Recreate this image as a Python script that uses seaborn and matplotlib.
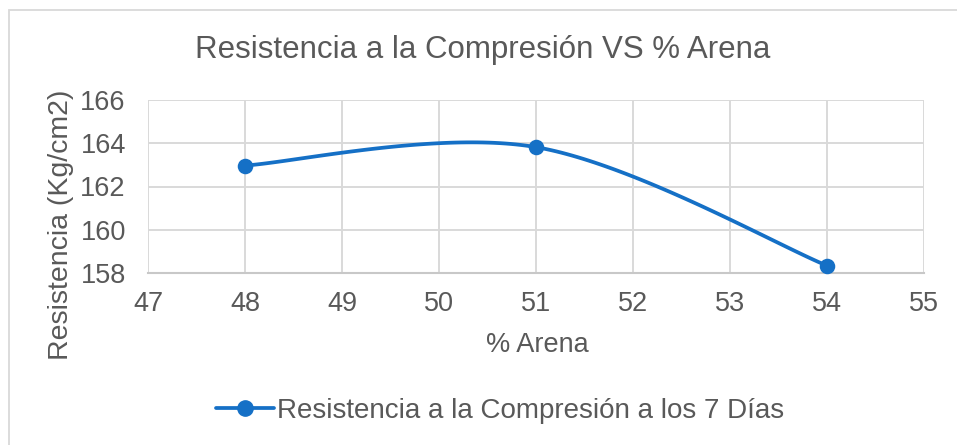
import numpy as np
import pandas as pd
import matplotlib
matplotlib.use("Agg")
import matplotlib.pyplot as plt
from matplotlib.lines import Line2D
from matplotlib.patches import Rectangle
import seaborn as sns

# Data
arena = [48, 51, 54]
resistencia = [162.97, 163.82, 158.34]
series_name = "Resistencia a la Compresión a los 7 Días"
title = "Resistencia a la Compresión VS % Arena"
x_label = "% Arena"
y_label = "Resistencia (Kg/cm2)"
x_ticks = [47, 48, 49, 50, 51, 52, 53, 54, 55]
y_ticks = [158, 160, 162, 164, 166]

BLUE = "#1570C6"
GREY_TXT = "#595959"
GRID = "#D9D9D9"

sns.set_theme(style="white")
plt.rcParams["font.family"] = ["Liberation Sans", "DejaVu Sans"]


def smooth_curve(xs, ys, n=60):
    """Cubic Bezier smoothing through points (spreadsheet-style)."""
    pts = np.column_stack([xs, ys]).astype(float)
    out = []
    for i in range(len(pts) - 1):
        p_prev = pts[i - 1] if i > 0 else pts[i]
        p0, p1 = pts[i], pts[i + 1]
        p_next = pts[i + 2] if i + 2 < len(pts) else pts[i + 1]
        c1 = p0 + (p1 - p_prev) / 6.0
        c2 = p1 - (p_next - p0) / 6.0
        t = np.linspace(0, 1, n)[:, None]
        seg = ((1 - t) ** 3) * p0 + 3 * ((1 - t) ** 2) * t * c1 \
            + 3 * (1 - t) * t ** 2 * c2 + t ** 3 * p1
        out.append(seg if i == 0 else seg[1:])
    curve = np.vstack(out)
    return pd.DataFrame({"x": curve[:, 0], "y": curve[:, 1]})


df = pd.DataFrame({"x": arena, "y": resistencia})
curve = smooth_curve(arena, resistencia)

fig = plt.figure(figsize=(9.57, 4.45), dpi=100)
W, H = 957, 445
ax = fig.add_axes([148 / W, 1 - 273 / H, (924 - 148) / W, (273 - 100) / H])

sns.lineplot(data=curve, x="x", y="y", ax=ax, sort=False, color=BLUE,
             linewidth=2.7, estimator=None, zorder=3)
sns.scatterplot(data=df, x="x", y="y", ax=ax, color=BLUE, s=125,
                edgecolor=BLUE, linewidth=0, zorder=4, clip_on=False)

ax.set_xlim(47, 55)
ax.set_ylim(158, 166)
ax.set_xticks(x_ticks)
ax.set_yticks(y_ticks)
ax.grid(True, color=GRID, linewidth=1.4)
ax.set_axisbelow(True)
for side in ["top", "right", "left"]:
    ax.spines[side].set_visible(False)
ax.spines["bottom"].set_color("#C8C8C8")
ax.spines["bottom"].set_linewidth(1.5)
ax.tick_params(axis="both", length=0, labelsize=19.5, colors=GREY_TXT)
ax.tick_params(axis="x", pad=13)
ax.tick_params(axis="y", pad=16)
ax.set_xlabel("")
ax.set_ylabel("")

fig.text(537 / W, 1 - 345 / H, x_label, ha="center", va="center",
         fontsize=19.5, color=GREY_TXT)
fig.text(61 / W, 1 - 225 / H, y_label, ha="center", va="center",
         rotation=90, fontsize=20.5, color=GREY_TXT)
fig.text(483 / W, 1 - 50 / H, title, ha="center", va="center",
         fontsize=22.5, color=GREY_TXT)

handle = Line2D([], [], color=BLUE, linewidth=2.7, marker="o",
                markersize=11, markerfacecolor=BLUE, markeredgecolor=BLUE)
fig.legend([handle], [series_name], loc="center",
           bbox_to_anchor=(500 / W, 1 - 411 / H), frameon=False,
           fontsize=20, labelcolor=GREY_TXT, handlelength=2.1,
           handletextpad=0.1)

# Outer chart frame
fig.patches.append(Rectangle((8.5 / W, -0.1), 1.2, 1 - 9.5 / H + 0.1,
                             transform=fig.transFigure, fill=False,
                             edgecolor="#D9D9D9", linewidth=1.3))

fig.savefig("out.png", dpi=100, facecolor="white")
